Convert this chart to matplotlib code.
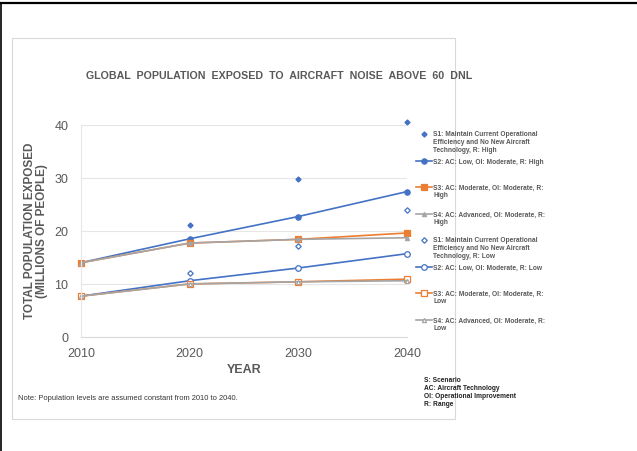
import numpy as np
import matplotlib
matplotlib.use('Agg')
import matplotlib.pyplot as plt
from matplotlib.lines import Line2D
from matplotlib.patches import Rectangle

plt.rcParams['font.family'] = ['Liberation Sans', 'DejaVu Sans']

# Data (millions of people)
years = [2010, 2020, 2030, 2040]
s1_high = [14.0, 21.1, 29.8, 40.5]
s2_high = [14.0, 18.5, 22.7, 27.4]
s3_high = [14.0, 17.7, 18.4, 19.6]
s4_high = [14.0, 17.7, 18.4, 18.7]
s1_low = [7.7, 12.1, 17.2, 23.9]
s2_low = [7.7, 10.6, 13.0, 15.7]
s3_low = [7.7, 10.0, 10.4, 10.9]
s4_low = [7.7, 10.0, 10.4, 10.6]

labels = [
    'S1: Maintain Current Operational\nEfficiency and No New Aircraft\nTechnology, R: High',
    'S2: AC: Low, OI: Moderate, R: High',
    'S3: AC: Moderate, OI: Moderate, R:\nHigh',
    'S4: AC: Advanced, OI: Moderate, R:\nHigh',
    'S1: Maintain Current Operational\nEfficiency and No New Aircraft\nTechnology, R: Low',
    'S2: AC: Low, OI: Moderate, R: Low',
    'S3: AC: Moderate, OI: Moderate, R:\nLow',
    'S4: AC: Advanced, OI: Moderate, R:\nLow',
]

blue = '#4472C4'
orange = '#ED7D31'
grey = '#A5A5A5'
text_col = '#595959'

# style per series: (values, color, marker, line?, filled?, markersize)
series = [
    (s1_high, blue, 'D', False, True, 2.6),
    (s2_high, blue, 'o', True, True, 3.8),
    (s3_high, orange, 's', True, True, 3.8),
    (s4_high, grey, '^', True, True, 3.0),
    (s1_low, blue, 'D', False, False, 2.8),
    (s2_low, blue, 'o', True, False, 4.0),
    (s3_low, orange, 's', True, False, 4.0),
    (s4_low, grey, '^', True, False, 3.0),
]

W, H = 637, 452
fig = plt.figure(figsize=(W / 100, H / 100), dpi=100)

# outer frame pieces and chart box
fig.add_artist(Line2D([0, 1], [1 - 4 / H, 1 - 4 / H], transform=fig.transFigure, color='black', lw=1.6))
fig.add_artist(Line2D([0.5 / W, 0.5 / W], [0, 1 - 4 / H], transform=fig.transFigure, color='black', lw=1.2))
fig.add_artist(Rectangle((12 / W, 1 - 420 / H), (455 - 12) / W, (420 - 39) / H,
                         transform=fig.transFigure, fill=False, edgecolor='#d9d9d9', lw=0.8))

ax = fig.add_axes([81 / W, 1 - 338 / H, (407 - 81) / W, (338 - 125.7) / H])
ax.set_xlim(2010, 2040)
ax.set_ylim(0, 40)
ax.set_xticks(years)
ax.set_yticks([0, 10, 20, 30, 40])
ax.grid(axis='y', color='#e6e6e6', lw=0.8)
ax.set_axisbelow(True)
for side in ['top', 'right']:
    ax.spines[side].set_visible(False)
ax.spines['left'].set_color('#e6e6e6')
ax.spines['bottom'].set_color('#d9d9d9')
ax.tick_params(length=0, labelsize=9, colors=text_col)
ax.tick_params(axis='y', pad=9)
ax.tick_params(axis='x', pad=7)

for vals, col, mk, has_line, filled, ms in series:
    ax.plot(years, vals, marker=mk, color=col, lw=1.2 if has_line else 0,
            ms=ms, mfc=col if filled else 'white', mec=col, mew=0.9, clip_on=False)

ax.set_xlabel('YEAR', fontsize=9, fontweight='bold', color=text_col, labelpad=3)
fig.text(36 / W, 1 - 231 / H, 'TOTAL POPULATION EXPOSED\n(MILLIONS OF PEOPLE)', rotation=90,
         ha='center', va='center', fontsize=8.5, fontweight='bold', color=text_col, linespacing=1.0)

fig.text(279 / W, 1 - 76 / H, 'GLOBAL  POPULATION  EXPOSED  TO  AIRCRAFT  NOISE  ABOVE  60  DNL',
         ha='center', va='center', fontsize=7.7, fontweight='bold', color=text_col)

# legend drawn entry by entry, handle aligned with first text line
leg_y = [135, 162, 188, 215, 241, 268, 294, 321]
for (vals, col, mk, has_line, filled, ms), lab, yy in zip(series, labels, leg_y):
    yf = 1 - yy / H
    fig.add_artist(Line2D([416 / W, 424 / W, 432 / W], [yf, yf, yf], transform=fig.transFigure,
                          color=col, lw=1.2 if has_line else 0, marker=mk, markevery=[1],
                          ms=ms, mfc=col if filled else 'white', mec=col, mew=0.9))
    fig.text(433 / W, yf + 3.5 / H, lab, ha='left', va='top', fontsize=4.8, fontweight='bold',
             color=text_col, linespacing=1.15)

fig.text(424 / W, 1 - 377 / H, 'S: Scenario\nAC: Aircraft Technology\nOI: Operational Improvement\nR: Range',
         ha='left', va='top', fontsize=4.8, fontweight='bold', color='#222222', linespacing=1.2)
fig.text(18 / W, 1 - 399 / H, 'Note: Population levels are assumed constant from 2010 to 2040.',
         ha='left', va='center', fontsize=5.4, color='#333333')

fig.savefig('out.png', dpi=100)
